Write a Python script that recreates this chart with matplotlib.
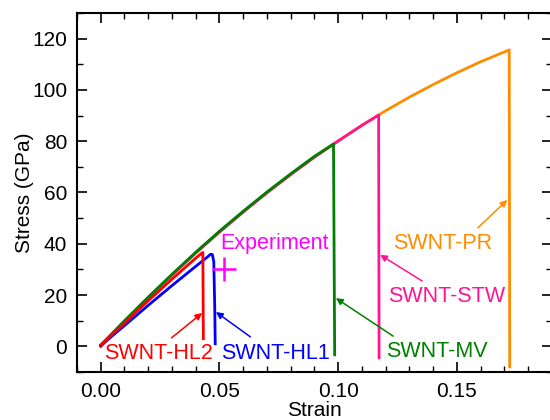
import matplotlib
matplotlib.use('Agg')
import matplotlib.pyplot as plt
from matplotlib.ticker import MultipleLocator

plt.rcParams['font.family'] = ['Liberation Sans', 'DejaVu Sans']

# common pristine-like loading curve
strain_pr = [0.0, 0.01, 0.02, 0.03, 0.04, 0.05, 0.06, 0.07, 0.08, 0.09, 0.10,
             0.11, 0.12, 0.13, 0.14, 0.15, 0.16, 0.172, 0.1722]
stress_pr = [0.0, 9.6, 18.9, 27.8, 36.4, 44.6, 52.4, 59.9, 67.0, 73.8, 80.1,
             86.2, 91.9, 97.2, 102.1, 106.7, 111.0, 115.6, -8.0]

strain_stw = [0.0, 0.01, 0.02, 0.03, 0.04, 0.05, 0.06, 0.07, 0.08, 0.09, 0.10,
              0.11, 0.117, 0.1172]
stress_stw = [0.0, 9.6, 18.9, 27.8, 36.4, 44.6, 52.4, 59.9, 67.0, 73.8, 80.1,
              86.2, 90.2, -4.5]

strain_mv = [0.0, 0.01, 0.02, 0.03, 0.04, 0.05, 0.06, 0.07, 0.08, 0.09, 0.098, 0.0985]
stress_mv = [0.5, 10.0, 19.2, 28.1, 36.7, 44.9, 52.7, 60.2, 67.3, 74.1, 78.9, -3.3]

strain_hl2 = [0.0, 0.01, 0.02, 0.03, 0.04, 0.0425, 0.0430, 0.0432]
stress_hl2 = [0.5, 9.1, 17.8, 26.2, 34.4, 36.3, 36.6, 3.0]

strain_hl1 = [0.0, 0.01, 0.02, 0.03, 0.04, 0.045, 0.0462, 0.0470, 0.0476, 0.0480, 0.0482]
stress_hl1 = [0.3, 8.1, 16.0, 23.7, 31.2, 34.9, 35.9, 35.8, 33.0, 15.0, 1.0]

exp_strain = [0.0517]
exp_stress = [30.2]

# label text, text position, arrow tail, arrow head
labels = ['SWNT-HL2', 'SWNT-HL1', 'SWNT-MV', 'SWNT-STW', 'SWNT-PR']
label_pos = [(0.0244, -2.6), (0.0735, -2.6), (0.1416, -2.2), (0.1458, 19.3), (0.1441, 40.3)]
arrow_tail = [(0.0298, 3.3), (0.0630, 3.7), (0.1231, 4.0), (0.1353, 25.5), (0.1588, 46.2)]
arrow_head = [(0.0427, 13.0), (0.0485, 13.4), (0.0990, 18.8), (0.1176, 35.7), (0.1712, 57.1)]
colors = ['#ff0000', '#0000ff', '#008000', '#ff1493', '#ff8c00']

fig = plt.figure(figsize=(5.5, 4.2), dpi=100)
ax = fig.add_axes([0.14, 0.1143, 0.8636, 0.8548])

ax.plot(strain_pr, stress_pr, color=colors[4], lw=2.0)
ax.plot(strain_stw, stress_stw, color=colors[3], lw=2.0)
ax.plot(strain_mv, stress_mv, color=colors[2], lw=2.0)
ax.plot(strain_hl1, stress_hl1, color=colors[1], lw=2.0)
ax.plot(strain_hl2, stress_hl2, color=colors[0], lw=2.0)
ax.plot(exp_strain, exp_stress, '+', color='#ff00ff', ms=17, mew=1.8)

ax.text(0.073, 40.3, 'Experiment', color='#ff00ff', fontsize=15.5,
        ha='center', va='center')

for name, pos, tail, head, c in zip(labels, label_pos, arrow_tail, arrow_head, colors):
    ax.text(pos[0], pos[1], name, color=c, fontsize=15.5, ha='center', va='center')
    ax.annotate('', xy=head, xytext=tail,
                arrowprops=dict(arrowstyle='-|>', color=c, lw=1.1,
                                mutation_scale=10, shrinkA=0, shrinkB=0))

ax.set_xlim(-0.01, 0.19)
ax.set_ylim(-10, 130)
ax.xaxis.set_major_locator(MultipleLocator(0.05))
ax.xaxis.set_minor_locator(MultipleLocator(0.01))
ax.yaxis.set_major_locator(MultipleLocator(20))
ax.yaxis.set_minor_locator(MultipleLocator(10))
ax.set_xticks([0.0, 0.05, 0.10, 0.15])
ax.set_xticklabels(['0.00', '0.05', '0.10', '0.15'])

ax.tick_params(which='both', direction='in', top=True, right=True, labelsize=15)
ax.tick_params(which='major', length=7, width=1.2, pad=7)
ax.tick_params(which='minor', length=4, width=1.0)
for s in ax.spines.values():
    s.set_linewidth(1.5)

ax.set_xlabel('Strain', fontsize=15, labelpad=0)
ax.set_ylabel('Stress (GPa)', fontsize=15, labelpad=-1)

fig.savefig('out.png', dpi=100)
